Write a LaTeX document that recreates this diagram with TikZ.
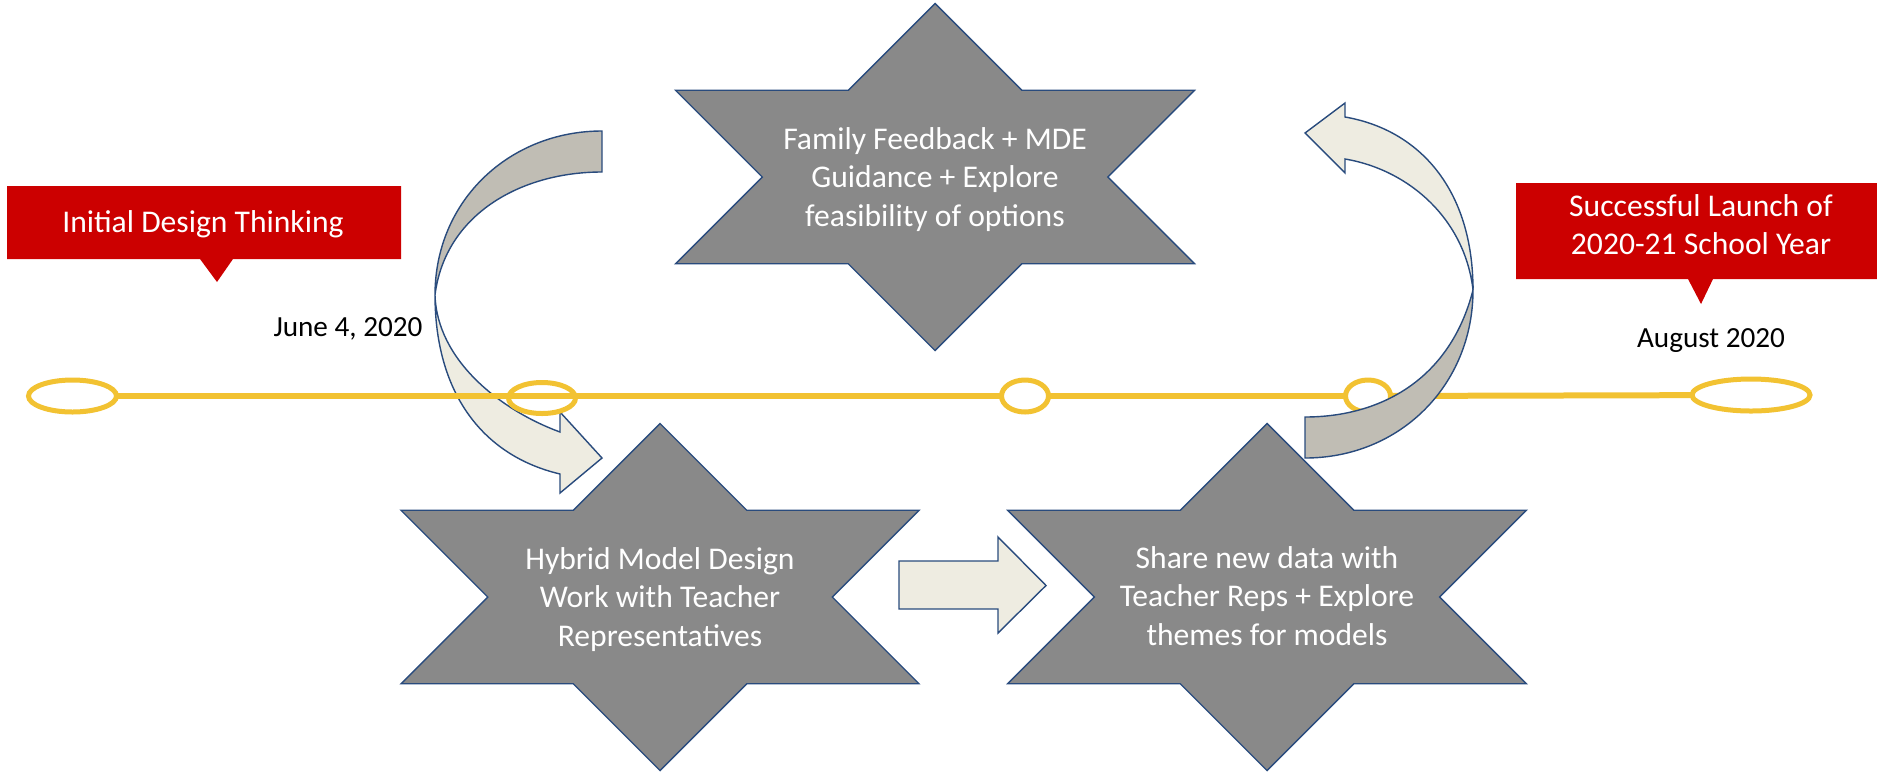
\documentclass[tikz,border=0pt]{standalone}
\usepackage{fontspec}
\setmainfont{Carlito}
\usetikzlibrary{shapes.geometric}
\definecolor{starfill}{RGB}{137,137,137}
\definecolor{edgeblue}{RGB}{41,75,125}
\definecolor{calred}{RGB}{204,0,0}
\definecolor{tlgold}{RGB}{242,194,50}
\definecolor{lightband}{RGB}{238,236,225}
\definecolor{darkband}{RGB}{192,189,180}
\newcommand\drawhexstar[3]{%
  \pgfmathsetmacro\hsw{#3-86.75}%
  \filldraw[starshape] (#1,#2) ++(0,-173.5) -- ++(86.75,86.75) -- ++(\hsw,0) -- ++(-86.75,86.75) -- ++(86.75,86.75) -- ++(-\hsw,0) -- ++(-86.75,86.75) -- ++(-86.75,-86.75) -- ++(-\hsw,0) -- ++(86.75,-86.75) -- ++(-86.75,-86.75) -- ++(\hsw,0) -- cycle;}
\begin{document}
\begin{tikzpicture}[x=0.5pt,y=-0.5pt,
  starshape/.style={fill=starfill,draw=edgeblue,line width=0.7pt,line join=miter},
  bandedge/.style={draw=edgeblue,line width=0.7pt,line join=miter},
  tline/.style={draw=tlgold,line width=3pt},
  tell/.style={ellipse,draw=tlgold,line width=2.5pt,inner sep=0pt,outer sep=0pt},
  startext/.style={text=white,align=center,font=\fontsize{15.8pt}{19.25pt}\selectfont},
  calltext/.style={text=white,align=center,font=\fontsize{15.8pt}{19pt}\selectfont},
  datetext/.style={text=black,font=\fontsize{14.6pt}{17pt}\selectfont,inner sep=0pt},
  callbox/.style={fill=calred,draw=none}
]
\useasboundingbox (0,0) rectangle (1877,772);
% left curved arrow (under the timeline)
\filldraw[bandedge,fill=darkband] (602,131) .. controls (510,131) and (435,200) .. (435,295) .. controls (445,215) and (520,172) .. (602,172) -- cycle;
\filldraw[bandedge,fill=lightband] (435,295) .. controls (435,390) and (480,455) .. (560,474) -- (560,493) -- (602,458) -- (560,412) -- (560,432) .. controls (500,410) and (437,360) .. (435,295) -- cycle;
% timeline
\node[tell,fill=white,minimum width=44pt,minimum height=16pt] (e1) at (72.5,396) {};
\node[tell,minimum width=33.5pt,minimum height=15.5pt] (e2) at (542,398) {};
\node[tell,fill=white,minimum width=23.5pt,minimum height=16pt] (e3) at (1025,396) {};
\node[tell,fill=white,minimum width=22.5pt,minimum height=16pt] (e4) at (1368,396) {};
\node[tell,fill=white,minimum width=59pt,minimum height=16pt] (e5) at (1751,395) {};
\draw[tline] (e1) -- (e3);
\draw[tline] (e3) -- (e4);
\draw[tline] (e4) -- (e5);
% right curved arrow (over the timeline)
\filldraw[bandedge,fill=darkband] (1305,458) .. controls (1400,458) and (1473,385) .. (1473,290) .. controls (1450,380) and (1380,417) .. (1305,417) -- cycle;
\filldraw[bandedge,fill=lightband] (1473,290) .. controls (1473,190) and (1420,130) .. (1345,117) -- (1345,103) -- (1305,133) -- (1345,173) -- (1345,159) .. controls (1410,170) and (1465,220) .. (1473,290) -- cycle;
% stars
\drawhexstar{935}{177}{259.5}
\drawhexstar{660}{597}{259}
\drawhexstar{1267}{597}{259.3}
\node[startext] (s1) at (935,179.5) {Family Feedback + MDE\\Guidance + Explore\\feasibility of options};
\node[startext] (s2) at (660,599.5) {Hybrid Model Design\\Work with Teacher\\Representatives};
\node[startext] (s3) at (1267,596) {Share new data with\\Teacher Reps + Explore\\themes for models};
% straight block arrow between the lower stars
\filldraw[bandedge,fill=lightband] (899,561) -- (998,561) -- (998,537) -- (1046,585.5) -- (998,633) -- (998,609) -- (899,609) -- cycle;
% callouts
\fill[callbox] (7,186) -- (401,186) -- (401,259) -- (233,259) -- (217,282) -- (200,259) -- (7,259) -- cycle;
\fill[callbox] (1516,183) -- (1877,183) -- (1877,279) -- (1713,279) -- (1701,304) -- (1688,279) -- (1516,279) -- cycle;
\node[calltext,anchor=base] (c1) at (203,232) {Initial Design Thinking};
\node[calltext] (c2) at (1701,224.5) {Successful Launch of\\2020-21 School Year};
% dates
\node[datetext,anchor=base] (d1) at (348,336) {June 4, 2020};
\node[datetext,anchor=base] (d2) at (1711,347) {August 2020};
\end{tikzpicture}
\end{document}
